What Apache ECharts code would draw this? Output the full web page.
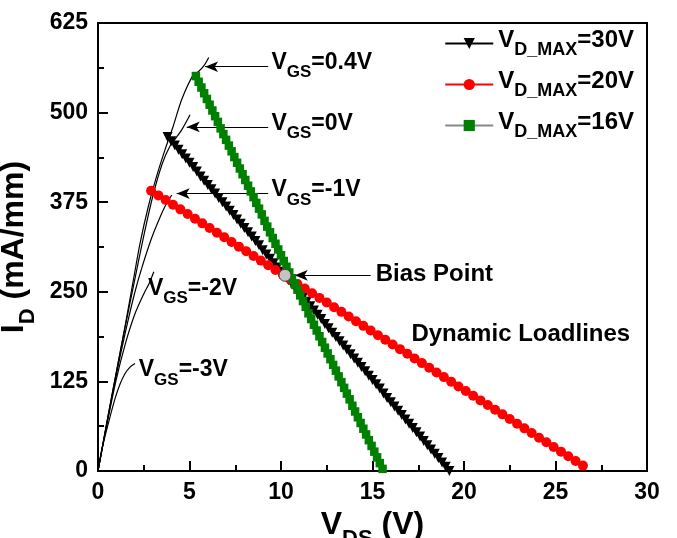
<!DOCTYPE html>
<html>
<head>
<meta charset="utf-8">
<script src="https://cdn.jsdelivr.net/npm/echarts@6/dist/echarts.min.js"></script>
<style>
  html, body { margin: 0; padding: 0; background: #fff; }
  #main { width: 677px; height: 538px; }
</style>
</head>
<body>
<div id="main"></div>
<script>
// output curves I_D(V_DS), one per gate voltage
var ivVgs04 = [[0,0],[0.5,70],[1,138],[1.5,205],[1.93,266],[2.3,318],[2.75,369],[3.2,411],[3.66,448],[4.11,481],[4.57,518],[5.21,553],[5.48,557],[5.8,566],[6.05,577]];
var ivVgs0 = [[0,0],[0.5,70],[1,137],[1.5,203],[2,266],[2.5,328],[3,384],[3.5,428],[3.93,453],[4.3,466],[4.6,477],[5.03,497]];
var ivVgsM1 = [[0,0],[0.5,68],[1,134],[1.5,194],[2,248],[2.39,283],[2.93,325],[3.39,354],[3.7,371],[4.03,385]];
var ivVgsM2 = [[0,0],[0.5,67],[1,128],[1.5,178],[2,218],[2.5,247],[2.8,262],[3.05,278]];
var ivVgsM3 = [[0,0],[0.2,29],[0.56,66],[0.93,101],[1.2,121],[1.48,136],[1.75,145],[2.02,150]];

// dynamic loadlines
var load30 = [[3.8,466],[4.0,460],[4.2,454],[4.4,448],[4.6,442],[4.8,436],[5.0,430],[5.2,424],[5.4,418],[5.6,411],
  [5.8,405],[6.0,399],[6.2,393],[6.4,387],[6.6,381],[6.8,375],[7.0,369],[7.2,363],[7.4,357],[7.6,351],
  [7.8,345],[8.0,339],[8.2,333],[8.4,327],[8.6,321],[8.8,315],[9.0,308],[9.2,302],[9.4,296],[9.6,290],
  [9.8,284],[10.0,278],[10.2,272],[10.4,266],[10.6,260],[10.8,254],[11.0,248],[11.2,242],[11.4,236],[11.6,230],
  [11.8,224],[12.0,218],[12.2,212],[12.4,205],[12.6,199],[12.8,193],[13.0,187],[13.2,181],[13.4,175],[13.6,169],
  [13.8,163],[14.0,157],[14.2,151],[14.4,145],[14.6,139],[14.8,133],[15.0,127],[15.2,121],[15.4,115],[15.6,108],
  [15.8,102],[16.0,96],[16.2,90],[16.4,84],[16.6,78],[16.8,72],[17.0,66],[17.2,60],[17.4,54],[17.6,48],
  [17.8,42],[18.0,36],[18.2,30],[18.4,24],[18.6,18],[18.8,12],[19.0,6],[19.2,0]];
var load20 = [[2.9,391],[3.3,384.5],[3.7,378],[4.1,371.5],[4.5,365],[4.9,358.5],[5.3,352],[5.7,345.5],[6.1,339],[6.5,332.5],
  [6.9,326],[7.3,319.5],[7.7,313],[8.1,306.5],[8.5,300],[8.9,293.5],[9.3,287],[9.7,280.5],[10.1,274],[10.5,267.5],
  [10.9,261],[11.3,254.5],[11.7,248],[12.1,241.5],[12.5,235],[12.9,228.5],[13.3,222],[13.7,215.5],[14.1,209],[14.5,202.5],
  [14.9,196],[15.3,189.5],[15.7,183],[16.1,176.5],[16.5,170],[16.9,163.5],[17.3,157],[17.7,150.5],[18.1,144],[18.5,137.5],
  [18.9,131],[19.3,124.5],[19.7,118],[20.1,111.5],[20.5,105],[20.9,98.5],[21.3,92],[21.7,85.5],[22.1,79],[22.5,72.5],
  [22.9,66],[23.3,59.5],[23.7,53],[24.1,46.5],[24.5,40],[24.9,33.5],[25.3,27],[25.7,20.5],[26.1,14],[26.5,7.5]];
var load16 = [[5.35,551],[5.5,543],[5.65,535],[5.8,527],[5.95,519],[6.1,511],[6.25,503],[6.4,495],[6.55,487],[6.7,478],
  [6.85,470],[7.0,462],[7.15,454],[7.3,446],[7.45,438],[7.6,430],[7.75,422],[7.9,414],[8.05,406],[8.2,398],
  [8.35,390],[8.5,382],[8.65,374],[8.8,366],[8.95,358],[9.1,349],[9.25,341],[9.4,333],[9.55,325],[9.7,317],
  [9.85,309],[10.0,301],[10.15,293],[10.3,285],[10.45,277],[10.6,269],[10.75,261],[10.9,253],[11.05,245],[11.2,237],
  [11.35,229],[11.5,220],[11.65,212],[11.8,204],[11.95,196],[12.1,188],[12.25,180],[12.4,172],[12.55,164],[12.7,156],
  [12.85,148],[13.0,140],[13.15,132],[13.3,124],[13.45,116],[13.6,108],[13.75,100],[13.9,91],[14.05,83],[14.2,75],
  [14.35,67],[14.5,59],[14.65,51],[14.8,43],[14.95,35],[15.1,27],[15.25,19],[15.4,11],[15.55,3]];
var biasPoint = [[10.22, 273]];

// annotation texts: [V, I, label]
var annoLabels = [
  [9.45, 565, '{v|V}{s|GS}{v|=0.4V}'],
  [9.45, 480, '{v|V}{s|GS}{v|=0V}'],
  [9.45, 387, '{v|V}{s|GS}{v|=-1V}'],
  [2.7, 250, '{v|V}{s|GS}{v|=-2V}'],
  [2.2, 136, '{v|V}{s|GS}{v|=-3V}'],
  [15.15, 274, '{t|Bias Point}'],
  [17.1, 190, '{t|Dynamic Loadlines}']
];
// arrows: [fromV, toV, I]
var annoArrows = [[9.3, 5.85, 564], [9.3, 4.85, 480], [9.3, 4.3, 387], [14.9, 10.75, 273]];

var seriesNames = ['30V', '20V', '16V'];

var font = 'Arial, "Liberation Sans", sans-serif';
var chart = echarts.init(document.getElementById('main'), null, { renderer: 'canvas' });

function ivSeries(data) {
  return {
    type: 'line', data: data, smooth: 0.3, symbol: 'none', silent: true,
    lineStyle: { color: '#000', width: 1.2 }, z: 2
  };
}

var option = {
  animation: false,
  backgroundColor: '#fff',
  grid: {
    left: 98, top: 23, right: 30, bottom: 67, containLabel: false, outerBoundsMode: 'none',
    show: true, borderColor: '#000', borderWidth: 2
  },
  legend: {
    orient: 'vertical', right: 38, top: 23, itemWidth: 48, itemHeight: 14, itemGap: 10,
    data: seriesNames.map(function (n) { return 'VD_MAX=' + n; }),
    formatter: function (name) { return '{v|V}{s|D_MAX}{v|' + name.slice(6) + '}'; },
    textStyle: {
      fontFamily: font, color: '#000',
      rich: {
        v: { fontSize: 24, fontWeight: 'bold', fontFamily: font, color: '#000', verticalAlign: 'bottom', padding: [0, 0, 7, 0] },
        s: { fontSize: 18, fontWeight: 'bold', fontFamily: font, color: '#000', verticalAlign: 'bottom' }
      }
    }
  },
  xAxis: {
    type: 'value', min: 0, max: 30, interval: 5,
    name: '{v|V}{s|DS}{v| (V)}', nameLocation: 'middle', nameGap: 32,
    nameTextStyle: {
      rich: {
        v: { fontSize: 32, fontWeight: 'bold', fontFamily: font, color: '#000', verticalAlign: 'bottom', padding: [0, 0, 9, 0] },
        s: { fontSize: 22, fontWeight: 'bold', fontFamily: font, color: '#000', verticalAlign: 'bottom' }
      }
    },
    axisLine: { lineStyle: { color: '#000', width: 2 } },
    axisTick: { inside: true, length: 10, lineStyle: { width: 2 } },
    minorTick: { show: true, splitNumber: 2, length: 6, lineStyle: { color: '#000', width: 2 } },
    axisLabel: { color: '#000', fontSize: 23, fontWeight: 'bold', fontFamily: font, margin: 10 },
    splitLine: { show: false }
  },
  yAxis: {
    type: 'value', min: 0, max: 625, interval: 125,
    name: '{v|I}{s|D}{v| (mA/mm)}', nameLocation: 'middle', nameGap: 46, nameRotate: 90,
    nameTextStyle: {
      rich: {
        v: { fontSize: 32, fontWeight: 'bold', fontFamily: font, color: '#000', verticalAlign: 'bottom', padding: [0, 0, 9, 0] },
        s: { fontSize: 22, fontWeight: 'bold', fontFamily: font, color: '#000', verticalAlign: 'bottom' }
      }
    },
    axisLine: { lineStyle: { color: '#000', width: 2 } },
    axisTick: { inside: true, length: 10, lineStyle: { width: 2 } },
    minorTick: { show: true, splitNumber: 2, length: 6, lineStyle: { color: '#000', width: 2 } },
    axisLabel: { color: '#000', fontSize: 23, fontWeight: 'bold', fontFamily: font, margin: 10 },
    splitLine: { show: false }
  },
  series: [
    ivSeries(ivVgs04), ivSeries(ivVgs0), ivSeries(ivVgsM1), ivSeries(ivVgsM2), ivSeries(ivVgsM3),
    {
      name: 'VD_MAX=30V', type: 'line', data: load30, symbol: 'triangle', symbolRotate: 180, symbolSize: 10,
      itemStyle: { color: '#000' }, lineStyle: { color: '#000', width: 2 }, z: 3
    },
    {
      name: 'VD_MAX=20V', type: 'line', data: load20, symbol: 'circle', symbolSize: 10,
      itemStyle: { color: '#ff0000' }, lineStyle: { color: '#ff0000', width: 3 }, z: 4
    },
    {
      name: 'VD_MAX=16V', type: 'line', data: load16, symbol: 'rect', symbolSize: 8.5,
      itemStyle: { color: '#008000' }, lineStyle: { color: '#888', width: 1 }, z: 5
    },
    {
      type: 'scatter', data: biasPoint, symbol: 'circle', symbolSize: 12, silent: true, z: 7,
      itemStyle: { color: '#c4c4c4', borderColor: '#444', borderWidth: 1, opacity: 1 }
    },
    {
      type: 'scatter', data: annoLabels, symbolSize: 1, silent: true, z: 8,
      itemStyle: { color: 'transparent', opacity: 1 },
      label: {
        show: true, position: 'right', distance: 0, color: '#000',
        formatter: function (p) { return p.data[2]; },
        rich: {
          v: { fontSize: 23, fontWeight: 'bold', fontFamily: font, color: '#000', verticalAlign: 'bottom', padding: [0, 0, 7, 0] },
          s: { fontSize: 17, fontWeight: 'bold', fontFamily: font, color: '#000', verticalAlign: 'bottom' },
          t: { fontSize: 24, fontWeight: 'bold', fontFamily: font, color: '#000' }
        }
      },
      markLine: {
        silent: true, symbol: ['none', 'arrow'], symbolSize: [8, 13],
        label: { show: false },
        lineStyle: { color: '#000', width: 1.2, type: 'solid' },
        data: annoArrows.map(function (a) {
          return [{ coord: [a[0], a[2]] }, { coord: [a[1], a[2]] }];
        })
      }
    }
  ]
};
chart.setOption(option);
</script>
</body>
</html>
